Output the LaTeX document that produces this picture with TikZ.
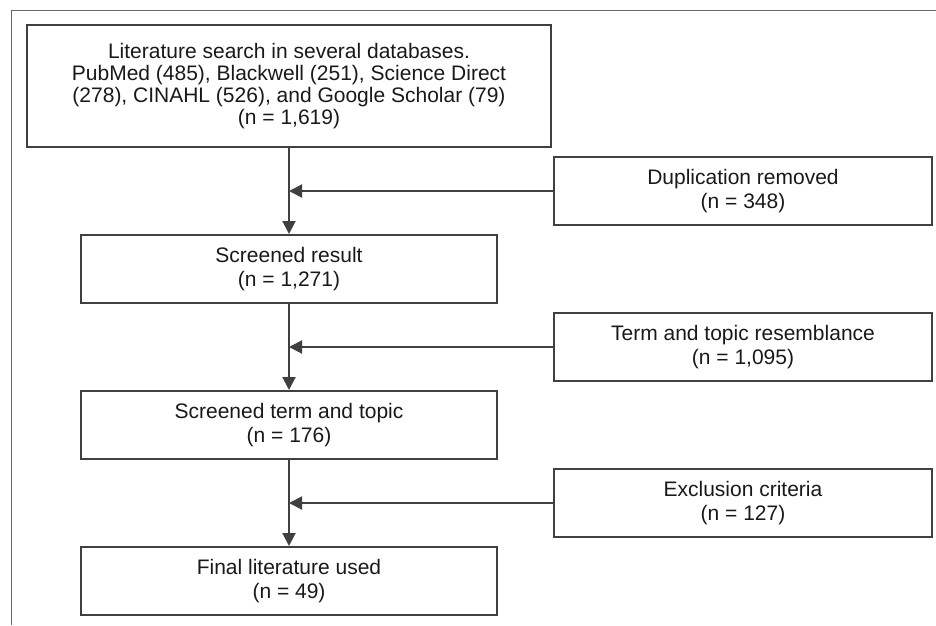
\documentclass[tikz,border=0pt]{standalone}
\usepackage{fontspec}
\setmainfont{Liberation Sans}
\usetikzlibrary{arrows.meta}
\tikzset{
  flowbox/.style={draw=black!75,line width=2pt,rectangle,align=center,text=black!90,
    font=\fontsize{21}{24.5}\selectfont,inner sep=0pt},
  leftbox/.style={flowbox,minimum width=416pt,minimum height=68pt},
  rightbox/.style={flowbox,minimum width=378pt,minimum height=68pt},
  flowarrow/.style={draw=black!75,line width=2pt,-{Triangle[length=13pt,width=13pt]}}
}
\begin{document}
\begin{tikzpicture}[x=1pt,y=-1pt]
			\useasboundingbox (0,0) rectangle (936,625);
			\draw[black!60,line width=1.6pt] (11.5,625) -- (11.5,10.5) -- (936,10.5);
			\node[flowbox,minimum width=524pt,minimum height=122pt,font=\fontsize{21}{21.8}\selectfont] (search) at (289,86)
			{Literature search in several databases.\\PubMed (485), Blackwell (251), Science Direct\\(278), CINAHL (526), and Google Scholar (79)\\(n = 1,619)};
			\node[rightbox] (dup) at (743,191) {Duplication removed\\(n = 348)};
			\node[leftbox] (screened) at (289,269) {Screened result\\(n = 1,271)};
			\node[rightbox] (term) at (743,347) {Term and topic resemblance\\(n = 1,095)};
			\node[leftbox] (screenedterm) at (289,425) {Screened term and topic\\(n = 176)};
			\node[rightbox] (excl) at (743,503) {Exclusion criteria\\(n = 127)};
			\node[leftbox] (final) at (289,581) {Final literature used\\(n = 49)};
			\coordinate (j1) at (search.south |- dup.west);
			\coordinate (j2) at (screened.south |- term.west);
			\coordinate (j3) at (screenedterm.south |- excl.west);
			\draw[flowarrow] (search.south) -- (screened.north);
			\draw[flowarrow] (screened.south) -- (screenedterm.north);
			\draw[flowarrow] (screenedterm.south) -- (final.north);
			\draw[flowarrow] (dup.west) -- (j1);
			\draw[flowarrow] (term.west) -- (j2);
			\draw[flowarrow] (excl.west) -- (j3);
\end{tikzpicture}
\end{document}
